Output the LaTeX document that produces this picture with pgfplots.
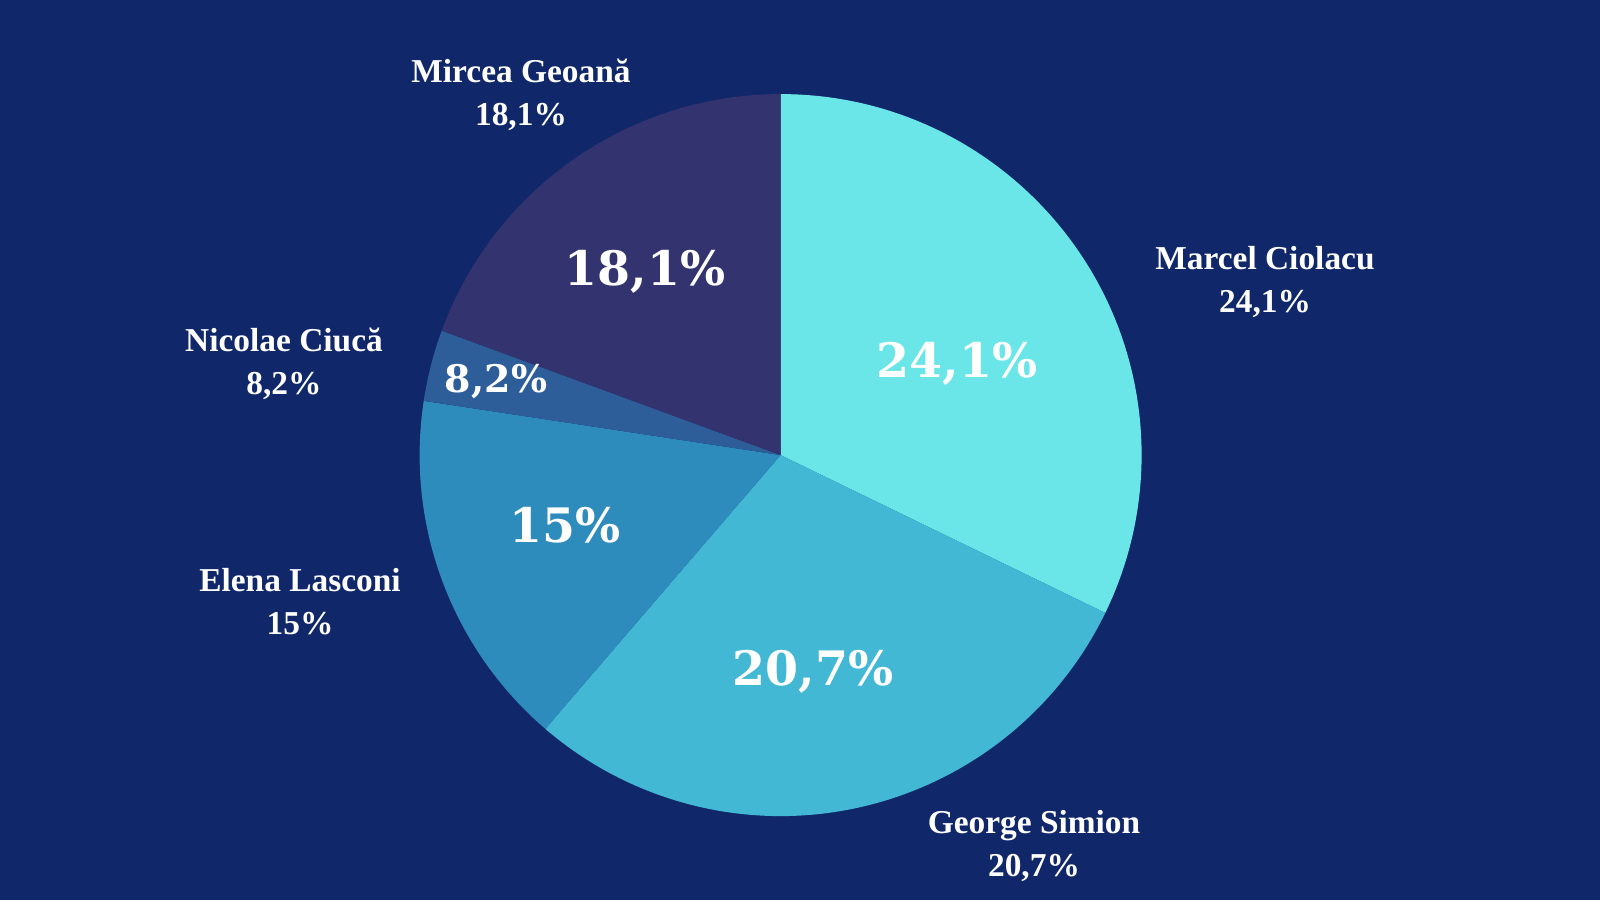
\documentclass[border=0pt]{standalone}
\usepackage{pgfplots}
\pgfplotsset{compat=1.18}
\usepackage{pgfplotstable}
\usepackage{fontspec}
\setmainfont{Liberation Serif}
\newfontfamily\innerfont{DejaVu Serif}
\definecolor{bg}{HTML}{10276A}
\definecolor{cA}{HTML}{6BE6E8}
\definecolor{cB}{HTML}{42B8D5}
\definecolor{cC}{HTML}{2E8CBC}
\definecolor{cD}{HTML}{2D5E9A}
\definecolor{cE}{HTML}{33346F}
% drawn share of the circle (percent), clockwise from 12 o'clock
\pgfplotstableread{
share color
32.2 cA
29.1 cB
16.1 cC
3.2 cD
19.4 cE
}\piedata
\begin{document}
\begin{tikzpicture}[
  outer label/.style={text=white,font=\bfseries\fontsize{9.5}{12.2}\selectfont,align=center},
  inner label/.style={text=white,font=\innerfont\bfseries\fontsize{13.5}{16}\selectfont}]
\begin{axis}[x=1cm,y=1cm,xmin=0,xmax=16,ymin=0,ymax=9,hide axis,clip=false]
\fill[bg] (axis cs:0,0) rectangle (axis cs:16,9);
\def\angstart{90}
\pgfplotsforeachungrouped \i in {0,...,4}{%
  \pgfplotstablegetelem{\i}{share}\of\piedata \let\sh\pgfplotsretval
  \pgfplotstablegetelem{\i}{color}\of\piedata \let\cl\pgfplotsretval
  \pgfmathsetmacro\angend{\angstart-3.6*\sh}%
  \edef\cmd{\noexpand\fill[\cl] (axis cs:7.806,4.449) -- ++(\angstart:3.61cm) arc[start angle=\angstart, end angle=\angend, radius=3.61cm] -- cycle;}%
  \cmd
  \let\angstart\angend
}
\node[inner label] at (axis cs:6.45,6.28) {18,1\%};
\node[inner label] at (axis cs:9.57,5.36) {24,1\%};
\node[inner label,font=\innerfont\bfseries\fontsize{10.8}{13}\selectfont] at (axis cs:4.96,5.18) {8,2\%};
\node[inner label] at (axis cs:5.65,3.75) {15\%};
\node[inner label] at (axis cs:8.13,2.28) {20,7\%};
\node[outer label] at (axis cs:5.21,8.05) {Mircea Geoană\\18,1\%};
\node[outer label] at (axis cs:12.65,6.18) {Marcel Ciolacu\\24,1\%};
\node[outer label] at (axis cs:2.84,5.36) {Nicolae Ciucă\\8,2\%};
\node[outer label] at (axis cs:3.00,2.98) {Elena Lasconi\\15\%};
\node[outer label] at (axis cs:10.34,0.54) {George Simion\\20,7\%};
\end{axis}
\end{tikzpicture}
\end{document}
